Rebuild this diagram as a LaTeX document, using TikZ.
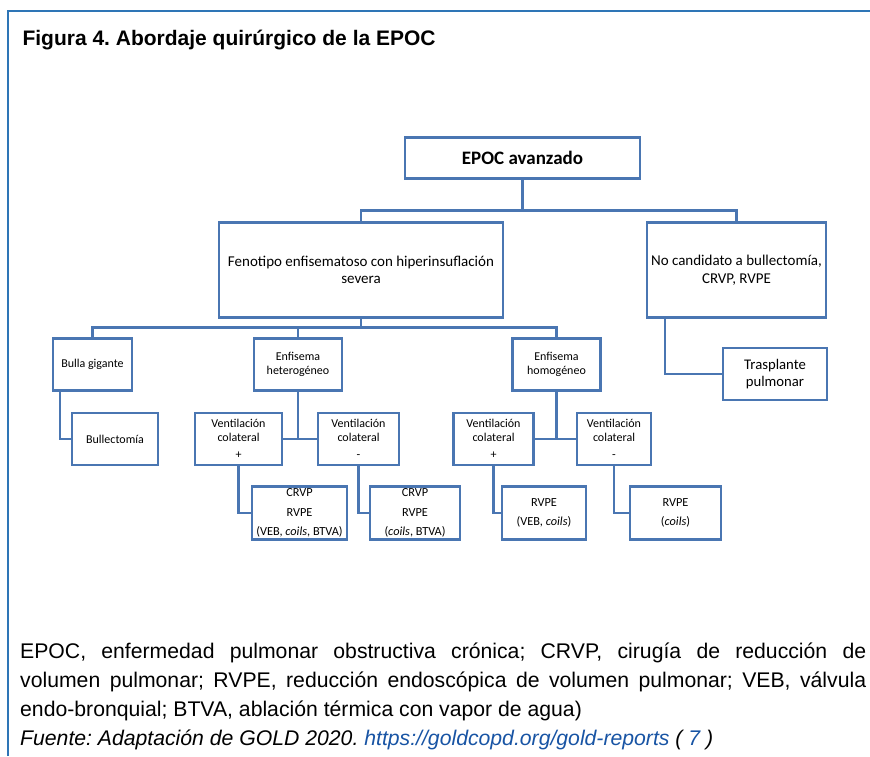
\documentclass[tikz,border=0pt]{standalone}
\usepackage{fontspec}
\setmainfont{Liberation Sans}
\newfontfamily\boxfont{Carlito}
\frenchspacing

\definecolor{cbox}{RGB}{74,118,178}
\definecolor{cframe}{RGB}{46,117,182}
\definecolor{clink}{RGB}{24,84,164}
\tikzset{figsec/.style={x=1pt,y=-1pt}}
\tikzset{caja/.style={draw=cbox,line width=2.2pt,inner sep=0pt,align=center,
                      font=\boxfont\fontsize{12}{13.5}\selectfont},
         cajados/.style={caja,font=\boxfont\fontsize{12.3}{19.5}\selectfont},
         enlace/.style={cbox,line width=2.2pt}}

\begin{document}
\begin{tikzpicture}[figsec]
    \useasboundingbox (0,0) rectangle (870,756);
    \draw[cframe,line width=1.5pt] (8,756) -- (8,11) -- (870,11);
    \node[anchor=base west,font=\bfseries\fontsize{21}{24}\selectfont] (tit) at (19,45) {Figura 4. Abordaje quirúrgico de la EPOC};
    % cajas
    \node[caja,minimum width=235,minimum height=41,font=\boxfont\bfseries\fontsize{19}{22}\selectfont] (epoc) at (522.5,158) {EPOC avanzado};
    \node[caja,minimum width=284,minimum height=95,font=\boxfont\fontsize{15}{17.5}\selectfont] (feno) at (361,270) {Fenotipo enfisematoso con hiperinsuflación\\severa};
    \node[caja,minimum width=179,minimum height=95,font=\boxfont\fontsize{15}{17.5}\selectfont] (nocand) at (736.5,270) {No candidato a bullectomía,\\CRVP, RVPE};
    \node[caja,minimum width=104,minimum height=52,font=\boxfont\fontsize{14.7}{16.5}\selectfont] (trasp) at (775,374) {Trasplante\\pulmonar};
    \node[caja,minimum width=79,minimum height=52] (bulla) at (92.5,364.5) {Bulla gigante};
    \node[caja,minimum width=86,minimum height=52] (bullec) at (115,439) {Bullectomía};
    \node[caja,minimum width=88,minimum height=52] (hetero) at (298,364.5) {Enfisema\\heterogéneo};
    \node[caja,minimum width=88,minimum height=52] (homo) at (556.5,364.5) {Enfisema\\homogéneo};
    \node[caja,minimum width=87,minimum height=52] (vhp) at (238.5,439) {Ventilación\\colateral\\[3.5pt]+};
    \node[caja,minimum width=81,minimum height=52] (vhm) at (358.5,439) {Ventilación\\colateral\\[3.5pt]-};
    \node[caja,minimum width=80,minimum height=52] (vmp) at (493.5,439) {Ventilación\\colateral\\[3.5pt]+};
    \node[caja,minimum width=74,minimum height=52] (vmm) at (614,439) {Ventilación\\colateral\\[3.5pt]-};
    \node[cajados,minimum width=95,minimum height=53] (r1) at (299.5,513) {CRVP\\RVPE\\(VEB, \textit{coils}, BTVA)};
    \node[cajados,minimum width=90,minimum height=53] (r2) at (415,513) {CRVP\\RVPE\\(\textit{coils}, BTVA)};
    \node[cajados,minimum width=84,minimum height=53] (r3) at (544,513) {RVPE\\(VEB, \textit{coils})};
    \node[cajados,minimum width=91,minimum height=53] (r4) at (675.5,513) {RVPE\\(\textit{coils})};
    % conectores
    \coordinate (j1) at (522.5,210.5);
    \coordinate (j2) at (361,327.5);
    \draw[enlace] (epoc.south) -- (j1);
    \draw[enlace] (feno.north) |- (j1) -| (nocand.north);
    \draw[enlace] ([xshift=19pt]nocand.south west) |- (trasp.west);
    \draw[enlace] (feno.south) -- (j2);
    \draw[enlace] (bulla.north) |- (j2) -| (homo.north);
    \draw[enlace] (hetero.north) -- (hetero.north |- j2);
    \draw[enlace] ([xshift=8pt]bulla.south west) |- (bullec.west);
    \draw[enlace] (hetero.south) -- (hetero.south |- vhp.east);
    \draw[enlace] (vhp.east) -- (vhm.west);
    \draw[enlace] (homo.south) -- (homo.south |- vmp.east);
    \draw[enlace] (vmp.east) -- (vmm.west);
    \draw[enlace] (vhp.south) |- (r1.west);
    \draw[enlace] (vhm.south) |- (r2.west);
    \draw[enlace] (vmp.south) |- (r3.west);
    \draw[enlace] (vmm.south) |- (r4.west);
    % nota
    \node[anchor=base west,text width=846,align=justify,inner sep=0pt,
          font=\fontsize{21.2}{29}\selectfont] (nota) at (20,658)
      {EPOC, enfermedad pulmonar obstructiva crónica; CRVP, cirugía de reducción de\linebreak
       volumen pulmonar; RVPE, reducción endoscópica de volumen pulmonar; VEB, válvula\linebreak
       endo-bronquial; BTVA, ablación térmica con vapor de agua)\\
       \textit{Fuente: Adaptación de GOLD 2020. \textcolor{clink}{https://goldcopd.org/gold-reports} ( \textcolor{clink}{7} )}};
  \end{tikzpicture}
\end{document}
